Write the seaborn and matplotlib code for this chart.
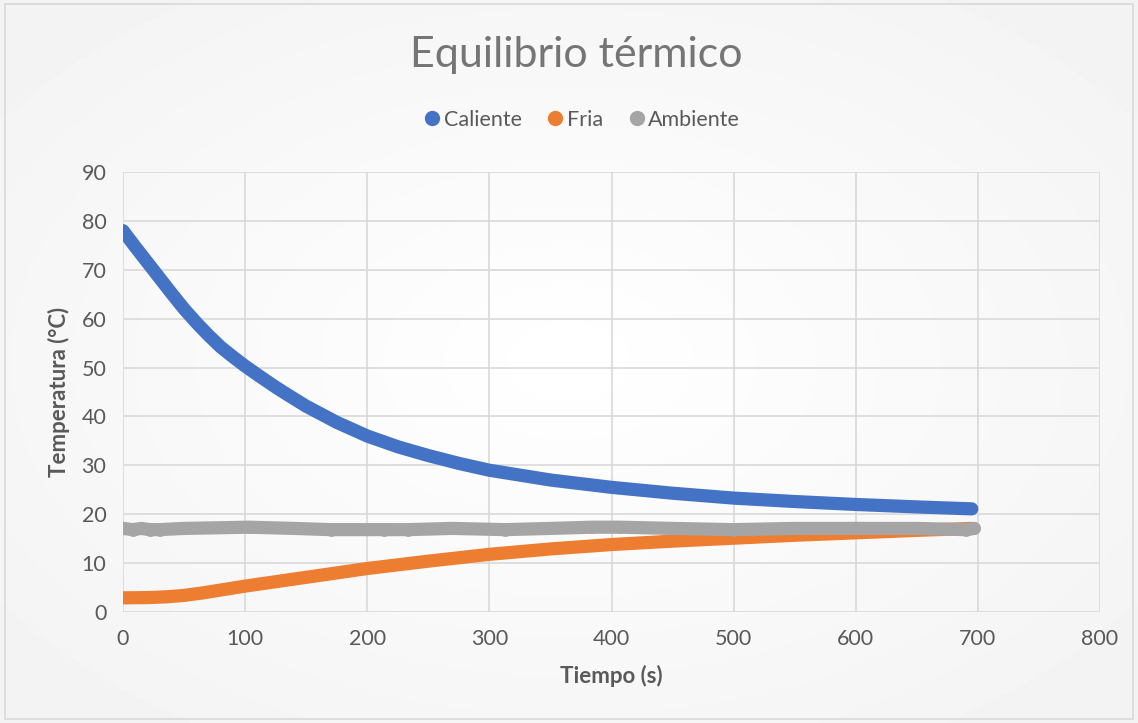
import numpy as np
import pandas as pd
import seaborn as sns
import matplotlib.pyplot as plt
from matplotlib.lines import Line2D
from matplotlib.patches import Rectangle

# Data
t_caliente = [0, 10, 20, 30, 40, 50, 60, 70, 80, 90, 100, 112, 125, 137, 150,
              175, 200, 225, 250, 275, 300, 350, 400, 450, 500, 550, 600, 650, 695]
caliente = [78.0, 74.7, 71.5, 68.3, 65.1, 62.0, 59.2, 56.6, 54.2, 52.2, 50.3,
            48.2, 46.0, 44.1, 42.1, 38.8, 36.0, 33.8, 32.0, 30.4, 29.0, 27.0,
            25.5, 24.3, 23.3, 22.6, 22.0, 21.5, 21.1]

t_fria = [0, 20, 35, 50, 65, 80, 100, 125, 150, 175, 200, 250, 300, 350, 400,
          450, 500, 550, 600, 650, 695]
fria = [2.9, 2.95, 3.1, 3.4, 3.9, 4.5, 5.3, 6.2, 7.1, 8.0, 8.9, 10.4, 11.8,
        12.9, 13.8, 14.5, 15.1, 15.7, 16.2, 16.7, 17.1]

t_ambiente = [0, 8, 15, 22, 30, 50, 103, 140, 170, 214, 233, 270, 313, 350,
              384, 407, 450, 500, 550, 600, 650, 690, 697]
ambiente = [17.1, 16.85, 17.1, 16.85, 16.85, 17.1, 17.35, 17.1, 16.85, 16.85,
            16.85, 17.1, 16.85, 17.1, 17.35, 17.35, 17.1, 16.85, 17.1, 17.1,
            17.1, 16.85, 17.1]

series_names = ['Caliente', 'Fria', 'Ambiente']
colors = ['#4472C4', '#ED7D31', '#A5A5A5']

df = pd.concat([
    pd.DataFrame({'Tiempo': t_caliente, 'Temp': caliente, 'Serie': 'Caliente'}),
    pd.DataFrame({'Tiempo': t_fria, 'Temp': fria, 'Serie': 'Fria'}),
    pd.DataFrame({'Tiempo': t_ambiente, 'Temp': ambiente, 'Serie': 'Ambiente'}),
])

sns.set_theme(style='white')
plt.rcParams['font.family'] = ['Lato', 'DejaVu Sans']
text_color = '#595959'

fig = plt.figure(figsize=(11.38, 7.23), dpi=100)
fig.patch.set_facecolor('#f2f2f2')

# soft radial background like the Excel chart area
bg = fig.add_axes([0, 0, 1, 1], zorder=-10)
yy, xx = np.mgrid[-1:1:200j, -1:1:300j]
r = np.sqrt(xx ** 2 + yy ** 2)
bg.imshow(1 - 0.05 * np.clip(r, 0, 1.4) / 1.4, cmap='gray', vmin=0, vmax=1,
          aspect='auto', extent=[0, 1, 0, 1])
bg.set_axis_off()
fig.patches.append(Rectangle((0.004, 0.005), 0.992, 0.99, transform=fig.transFigure,
                             fill=False, edgecolor='#d9d9d9', lw=1.2))

ax = fig.add_axes([0.1081, 0.1535, 0.8585, 0.6086])
ax.patch.set_alpha(0)

palette = dict(zip(series_names, colors))
sns.lineplot(data=df, x='Tiempo', y='Temp', hue='Serie', palette=palette,
             sort=False, estimator=None, linewidth=9.5, legend=False, ax=ax,
             solid_capstyle='round', solid_joinstyle='round')
# ambient readings as dots on top of its band
amb = df[df['Serie'] == 'Ambiente']
sns.scatterplot(data=amb, x='Tiempo', y='Temp', color=colors[2],
                s=85, linewidth=0, legend=False, ax=ax, zorder=3)

ax.set_xlim(0, 800)
ax.set_ylim(0, 90)
ax.set_xticks(range(0, 801, 100))
ax.set_yticks(range(0, 91, 10))
ax.grid(True, color='#d9d9d9', linewidth=1.2)
ax.set_axisbelow(True)
for s in ax.spines.values():
    s.set_visible(False)
ax.tick_params(axis='both', colors=text_color, labelsize=15.5, length=0, pad=12)

ax.set_xlabel('Tiempo (s)', fontsize=16, fontweight='bold', color=text_color, labelpad=12)
ax.set_ylabel('Temperatura (°C)', fontsize=16, fontweight='bold', color=text_color, labelpad=8)

fig.text(0.506, 0.924, 'Equilibrio térmico', ha='center', va='center',
         fontsize=31, color='#757575')

handles = [Line2D([0], [0], marker='o', linestyle='', markersize=10,
                  markerfacecolor=c, markeredgecolor=c) for c in colors]
fig.legend(handles, series_names, loc='center', bbox_to_anchor=(0.508, 0.834),
           ncol=3, frameon=False, fontsize=15.5, labelcolor=text_color,
           handletextpad=-0.2, columnspacing=0.8, handlelength=1.5)

fig.savefig('out.png', dpi=100)
